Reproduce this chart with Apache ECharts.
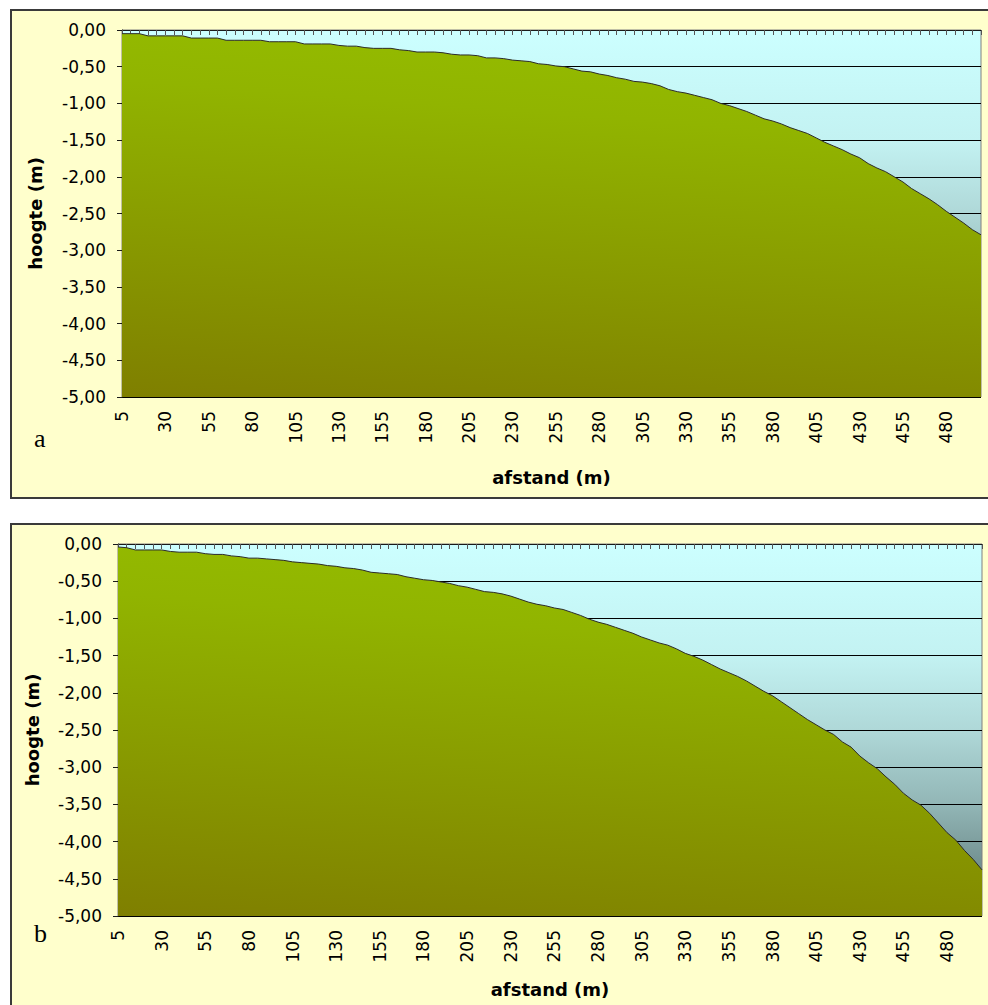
<!DOCTYPE html>
<html><head><meta charset="utf-8">
<script src="https://cdn.jsdelivr.net/npm/echarts@6/dist/echarts.min.js"></script>
<style>
html,body{margin:0;padding:0;background:#fff;}
#wrap{position:relative;width:988px;height:1005px;overflow:hidden;}
.panel{position:absolute;background:#FFFFCC;border:2px solid #3a3a3a;box-sizing:border-box;}
#chart{position:absolute;left:0;top:0;width:988px;height:1005px;}
</style></head><body>
<div id="wrap">
<div class="panel" style="left:10px;top:9px;width:990px;height:490px"></div>
<div class="panel" style="left:10px;top:523px;width:990px;height:500px"></div>
<div id="chart"></div>
</div>
<script>
const distances = ['5','10','15','20','25','30','35','40','45','50','55','60','65','70','75','80','85','90','95','100',
'105','110','115','120','125','130','135','140','145','150','155','160','165','170','175','180','185','190','195','200',
'205','210','215','220','225','230','235','240','245','250','255','260','265','270','275','280','285','290','295','300',
'305','310','315','320','325','330','335','340','345','350','355','360','365','370','375','380','385','390','395','400',
'405','410','415','420','425','430','435','440','445','450','455','460','465','470','475','480','485','490','495','500'];

const heightA = [-0.05,-0.05,-0.05,-0.08,-0.08,-0.08,-0.08,-0.08,-0.11,-0.11,
-0.11,-0.11,-0.14,-0.14,-0.14,-0.14,-0.14,-0.16,-0.16,-0.16,
-0.16,-0.19,-0.19,-0.19,-0.19,-0.21,-0.22,-0.22,-0.24,-0.25,
-0.25,-0.25,-0.27,-0.28,-0.30,-0.30,-0.30,-0.31,-0.33,-0.34,
-0.34,-0.35,-0.38,-0.38,-0.39,-0.41,-0.42,-0.43,-0.46,-0.47,
-0.49,-0.50,-0.53,-0.56,-0.57,-0.60,-0.62,-0.65,-0.67,-0.70,
-0.71,-0.73,-0.76,-0.81,-0.84,-0.86,-0.89,-0.92,-0.95,-1.00,
-1.03,-1.07,-1.11,-1.16,-1.21,-1.24,-1.28,-1.33,-1.37,-1.41,
-1.47,-1.53,-1.58,-1.63,-1.69,-1.74,-1.82,-1.88,-1.93,-2.00,
-2.07,-2.16,-2.23,-2.30,-2.38,-2.47,-2.55,-2.63,-2.72,-2.79];

const heightB = [-0.04,-0.05,-0.08,-0.08,-0.08,-0.08,-0.10,-0.11,-0.11,-0.11,
-0.13,-0.14,-0.14,-0.16,-0.17,-0.19,-0.19,-0.20,-0.21,-0.22,
-0.24,-0.25,-0.26,-0.27,-0.29,-0.30,-0.32,-0.33,-0.35,-0.38,
-0.39,-0.40,-0.41,-0.44,-0.46,-0.48,-0.49,-0.51,-0.53,-0.56,
-0.58,-0.61,-0.64,-0.65,-0.67,-0.70,-0.74,-0.78,-0.81,-0.83,
-0.86,-0.88,-0.92,-0.96,-1.01,-1.05,-1.08,-1.12,-1.16,-1.20,
-1.25,-1.29,-1.33,-1.36,-1.41,-1.47,-1.51,-1.56,-1.62,-1.68,
-1.73,-1.78,-1.84,-1.91,-1.98,-2.04,-2.12,-2.20,-2.28,-2.36,
-2.43,-2.50,-2.56,-2.66,-2.73,-2.85,-2.94,-3.02,-3.13,-3.23,
-3.35,-3.44,-3.51,-3.62,-3.75,-3.88,-3.98,-4.12,-4.24,-4.38];

const yMin = -5, yMax = 0, yStep = 0.5;
const xTitle = 'afstand (m)';
const yTitle = 'hoogte (m)';
const panelLabels = ['a', 'b'];

const chart = echarts.init(document.getElementById('chart'), null, {renderer: 'svg'});

function water() {
  return new echarts.graphic.LinearGradient(0, 0, 0, 1, [
    {offset: 0, color: '#CCFFFF'},
    {offset: 0.3, color: '#C3F2F2'},
    {offset: 0.5, color: '#AFD8D8'},
    {offset: 0.7, color: '#92B6B6'},
    {offset: 0.88, color: '#6F8D8D'},
    {offset: 1, color: '#5C7676'}
  ]);
}
function land() {
  return new echarts.graphic.LinearGradient(0, 1, 0.31, -0.69, [
    {offset: 0, color: '#7F7F00'},
    {offset: 0.5, color: '#91B400'},
    {offset: 0.75, color: '#97C400'},
    {offset: 1, color: '#99CC00'}
  ]);
}
const FONT = 'DejaVu Sans';
function xAx(gi, gap) {
  return {
    type: 'category', gridIndex: gi, data: distances, boundaryGap: false,
    axisLine: {show: true, lineStyle: {color: '#1a1a1a', width: 1}},
    axisTick: {show: true, interval: 0, length: 5, lineStyle: {color: '#555'}},
    axisLabel: {show: true, interval: 4, rotate: 90, margin: 14, fontFamily: FONT, fontSize: 17, color: '#000'},
    splitLine: {show: false},
    name: xTitle, nameLocation: 'middle', nameGap: gap,
    nameTextStyle: {fontFamily: FONT, fontWeight: 'bold', fontSize: 18, color: '#000'}
  };
}
function yAx(gi, gap) {
  return {
    type: 'value', gridIndex: gi, min: yMin, max: yMax, interval: yStep,
    axisLine: {show: true, lineStyle: {color: '#1a1a1a', width: 1}},
    axisTick: {show: true, length: 5, lineStyle: {color: '#1a1a1a'}},
    axisLabel: {margin: 16, fontFamily: FONT, fontSize: 17, color: '#000',
      formatter: v => v.toFixed(2).replace('.', ',')},
    splitLine: {show: true, lineStyle: {color: '#000', width: 1}},
    name: yTitle, nameLocation: 'middle', nameGap: gap,
    nameTextStyle: {fontFamily: FONT, fontWeight: 'bold', fontSize: 18, color: '#000'}
  };
}
function ser(gi, data) {
  return {
    type: 'line', xAxisIndex: gi, yAxisIndex: gi, data: data,
    symbol: 'none', silent: true, animation: false,
    lineStyle: {color: '#2b2b2b', width: 1},
    areaStyle: {origin: 'start', color: land(), opacity: 1}
  };
}

chart.setOption({
  backgroundColor: 'transparent',
  animation: false,
  grid: [
    {left: 122, top: 30, width: 859, height: 367, show: true, backgroundColor: water(), borderColor: '#808080', borderWidth: 1},
    {left: 118, top: 544, width: 864, height: 372, show: true, backgroundColor: water(), borderColor: '#808080', borderWidth: 1}
  ],
  xAxis: [xAx(0, 71), xAx(1, 64)],
  yAxis: [yAx(0, 78), yAx(1, 77)],
  series: [ser(0, heightA), ser(1, heightB)],
  graphic: [
    {type: 'text', left: 34, top: 425, style: {text: panelLabels[0], font: '26px "Liberation Serif"', fill: '#000'}},
    {type: 'text', left: 34, top: 920, style: {text: panelLabels[1], font: '26px "Liberation Serif"', fill: '#000'}}
  ]
});
</script>
</body></html>
